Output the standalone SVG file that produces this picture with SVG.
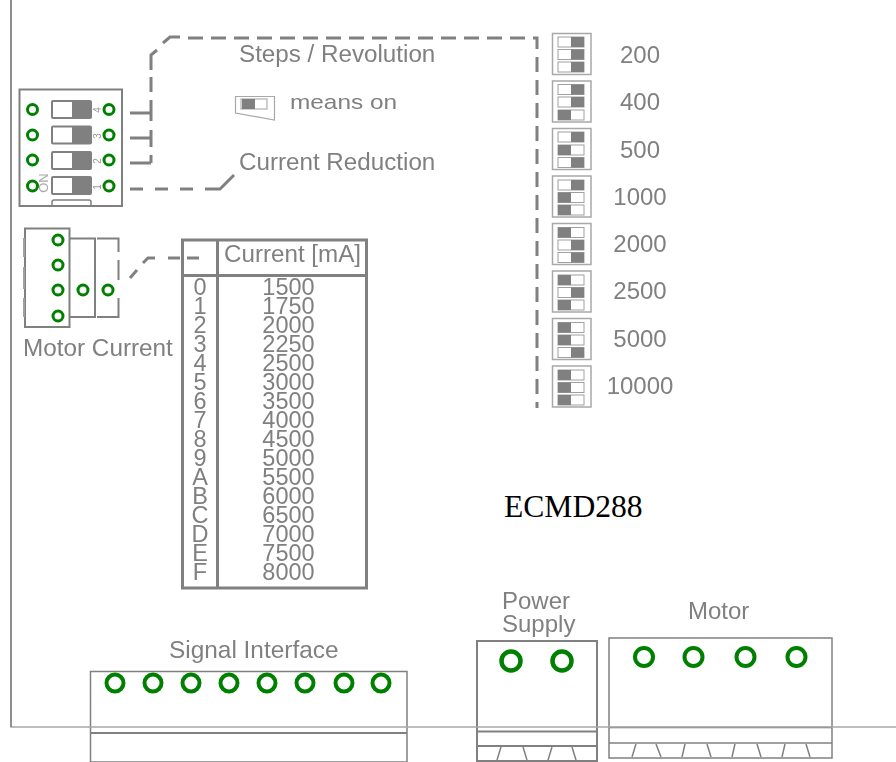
<svg xmlns="http://www.w3.org/2000/svg" xmlns:xlink="http://www.w3.org/1999/xlink" width="896" height="762" viewBox="0 0 896 762">
<style>
text{font-family:"Liberation Sans",Arial,sans-serif;fill:#808080;font-size:24px}
.soft{filter:url(#soft)}
.m{text-anchor:middle}
.t{font-size:23.500px;text-anchor:middle}
.box{fill:#fff;stroke:#808080;stroke-width:1.500}
.b2{fill:none;stroke:#808080;stroke-width:2}
.b3{fill:none;stroke:#808080;stroke-width:3}
.ln{fill:none;stroke:#808080;stroke-width:3}
.dash{fill:none;stroke:#808080;stroke-width:3;stroke-dasharray:15 8}
.g{fill:none;stroke:#008000;stroke-width:3}
.g2{fill:none;stroke:#008000;stroke-width:4}
.sw{fill:#fff;stroke:#a0a0a0;stroke-width:1}
.dk{fill:#808080}
.fr{fill:#fff;stroke:#a8a8a8;stroke-width:1.500}
.tiny{font-size:10px;fill:#999}
</style>
<defs>
<filter id="soft" x="-5%" y="-5%" width="110%" height="110%"><feGaussianBlur stdDeviation="0.45"/></filter>
<g id="off"><rect class="sw" x="0" y="0" width="26" height="10"/><rect class="dk" x="13" y="0" width="13" height="10"/></g>
<g id="on"><rect class="sw" x="0" y="0" width="26" height="10"/><rect class="dk" x="0" y="0" width="13" height="10"/></g>
<rect id="frame" class="fr" x="552.500" y="0" width="38.500" height="41"/>
<g id="msw"><rect x="52" y="0" width="39" height="17" rx="1" fill="#fff" stroke="#808080" stroke-width="2"/><rect class="dk" x="72" y="0" width="19" height="17"/></g>
</defs>

<g id="connectors" class="soft">
<path class="ln" d="M151 163V155M151 147V130M151 121V100M151 92V77M151 70V55L157 50M163 43L170 37H180"/>
<path class="dash" d="M188 38H537V408"/>
<path class="ln" d="M130 113H151M130 138H151M130 163H151"/>
<path class="ln" d="M130 189H143M155 189H168M180 189H193M205 189H220L234 175"/>
<path class="ln" d="M130 278L137 270M143 263L148 258H155M168 258H180M187 258H199"/>
</g>

<g id="dip-switch" class="soft">
<rect class="b2" x="19.500" y="89.500" width="102.500" height="116.500" fill="#fff"/>
<use xlink:href="#msw" y="101"/><use xlink:href="#msw" y="126.500"/><use xlink:href="#msw" y="152"/><use xlink:href="#msw" y="177"/>
<path d="M52 206V202Q52 200 54 200H89Q91 200 91 202V206" fill="none" stroke="#808080" stroke-width="1.500"/>
<circle class="g" cx="32.500" cy="109.500" r="5"/><circle class="g" cx="32.500" cy="135" r="5"/><circle class="g" cx="32.500" cy="160" r="5"/><circle class="g" cx="32.500" cy="186" r="5"/>
<circle class="g" cx="109" cy="109.500" r="5"/><circle class="g" cx="109" cy="135" r="5"/><circle class="g" cx="109" cy="160" r="5"/><circle class="g" cx="109" cy="186" r="5"/>
<text class="tiny" transform="translate(101 110) rotate(-90)" text-anchor="middle">4</text>
<text class="tiny" transform="translate(101 136) rotate(-90)" text-anchor="middle">3</text>
<text class="tiny" transform="translate(101 161) rotate(-90)" text-anchor="middle">2</text>
<text class="tiny" transform="translate(101 187) rotate(-90)" text-anchor="middle">1</text>
<text transform="translate(48 183) rotate(-90)" text-anchor="middle" style="font-size:13px;fill:#a8a8a8">ON</text>
</g>

<g id="labels" class="soft">
<text x="239" y="62" style="font-size:24.200px">Steps / Revolution</text>
<text x="239" y="170" style="font-size:24.200px">Current Reduction</text>
<text transform="translate(290 108.500) scale(1 .8)" style="font-size:24.400px">means on</text>
</g>
<g id="title"><text x="504" y="517" style="font-family:'Liberation Serif',serif;font-size:31.600px;fill:#000">ECMD288</text></g>

<g id="on-legend" class="soft">
<path d="M235.500 96.500H274.500V120L235.500 113Z" fill="#fff" stroke="#a8a8a8" stroke-width="1.200"/>
<rect class="sw" x="241" y="99" width="26" height="10"/><rect class="dk" x="242" y="99" width="13" height="10"/>
</g>

<g id="steps-200" class="soft"><use xlink:href="#frame" y="33.500"/><use xlink:href="#off" x="558" y="37"/><use xlink:href="#off" x="558" y="49.500"/><use xlink:href="#off" x="558" y="62"/><text class="m" x="640" y="63">200</text></g>
<g id="steps-400" class="soft"><use xlink:href="#frame" y="81"/><use xlink:href="#off" x="558" y="84.500"/><use xlink:href="#off" x="558" y="97"/><use xlink:href="#on" x="558" y="110"/><text class="m" x="640" y="110">400</text></g>
<g id="steps-500" class="soft"><use xlink:href="#frame" y="128.500"/><use xlink:href="#off" x="558" y="132"/><use xlink:href="#on" x="558" y="145"/><use xlink:href="#off" x="558" y="157.500"/><text class="m" x="640" y="158">500</text></g>
<g id="steps-1000" class="soft"><use xlink:href="#frame" y="176"/><use xlink:href="#off" x="558" y="180"/><use xlink:href="#on" x="558" y="192.500"/><use xlink:href="#on" x="558" y="205"/><text class="m" x="640" y="205">1000</text></g>
<g id="steps-2000" class="soft"><use xlink:href="#frame" y="223.500"/><use xlink:href="#on" x="558" y="227.500"/><use xlink:href="#off" x="558" y="240"/><use xlink:href="#off" x="558" y="252.500"/><text class="m" x="640" y="252">2000</text></g>
<g id="steps-2500" class="soft"><use xlink:href="#frame" y="271"/><use xlink:href="#on" x="558" y="275"/><use xlink:href="#off" x="558" y="287.500"/><use xlink:href="#on" x="558" y="300"/><text class="m" x="640" y="299">2500</text></g>
<g id="steps-5000" class="soft"><use xlink:href="#frame" y="318.500"/><use xlink:href="#on" x="558" y="322.500"/><use xlink:href="#on" x="558" y="335"/><use xlink:href="#off" x="558" y="347.500"/><text class="m" x="640" y="347">5000</text></g>
<g id="steps-10000" class="soft"><use xlink:href="#frame" y="366"/><use xlink:href="#on" x="558" y="370"/><use xlink:href="#on" x="558" y="382.500"/><use xlink:href="#on" x="558" y="395"/><text class="m" x="640" y="394">10000</text></g>

<g id="motor-current" class="soft">
<path class="b2" d="M25 228.500H69.500V327H25ZM69.500 238.500H95V317H69.500M95 238.500V317"/>
<path class="b2" d="M97 238.500H118.500V252M118.500 260V280M118.500 298V317H97"/>
<path d="M24 238V257M24 267V289M24 298V317" fill="none" stroke="#a0a0a0" stroke-width="2"/>
<circle class="g" cx="58" cy="240" r="5"/><circle class="g" cx="58" cy="265" r="5"/><circle class="g" cx="58" cy="290" r="5"/><circle class="g" cx="58" cy="316" r="5"/>
<circle class="g" cx="83" cy="290" r="5"/><circle class="g" cx="108" cy="290" r="5"/>
<text x="23" y="356" style="font-size:24.300px">Motor Current</text>
</g>

<g id="current-table" class="soft">
<path class="b3" d="M182.500 240H366.500V588H182.500ZM217.500 240V588M182.500 275.500H366.500"/>
<text x="224" y="262" style="font-size:24.200px">Current [mA]</text>
<text class="t" x="200" y="294.500">0</text><text class="t" x="288.500" y="294.500">1500</text>
<text class="t" x="200" y="313.500">1</text><text class="t" x="288.500" y="313.500">1750</text>
<text class="t" x="200" y="332.600">2</text><text class="t" x="288.500" y="332.600">2000</text>
<text class="t" x="200" y="351.700">3</text><text class="t" x="288.500" y="351.700">2250</text>
<text class="t" x="200" y="370.800">4</text><text class="t" x="288.500" y="370.800">2500</text>
<text class="t" x="200" y="389.800">5</text><text class="t" x="288.500" y="389.800">3000</text>
<text class="t" x="200" y="408.900">6</text><text class="t" x="288.500" y="408.900">3500</text>
<text class="t" x="200" y="428">7</text><text class="t" x="288.500" y="428">4000</text>
<text class="t" x="200" y="447">8</text><text class="t" x="288.500" y="447">4500</text>
<text class="t" x="200" y="466">9</text><text class="t" x="288.500" y="466">5000</text>
<text class="t" x="200" y="485">A</text><text class="t" x="288.500" y="485">5500</text>
<text class="t" x="200" y="504">B</text><text class="t" x="288.500" y="504">6000</text>
<text class="t" x="200" y="523">C</text><text class="t" x="288.500" y="523">6500</text>
<text class="t" x="200" y="542">D</text><text class="t" x="288.500" y="542">7000</text>
<text class="t" x="200" y="561">E</text><text class="t" x="288.500" y="561">7500</text>
<text class="t" x="200" y="580">F</text><text class="t" x="288.500" y="580">8000</text>
</g>

<g id="signal-interface" class="soft">
<path class="box" d="M90.500 671.500H407V762H90.500Z"/>
<path d="M90 733H407" stroke="#808080" stroke-width="2" fill="none"/>
<circle class="g2" cx="115" cy="683" r="8.500"/><circle class="g2" cx="153" cy="683" r="8.500"/><circle class="g2" cx="191" cy="683" r="8.500"/><circle class="g2" cx="229" cy="683" r="8.500"/><circle class="g2" cx="267" cy="683" r="8.500"/><circle class="g2" cx="305" cy="683" r="8.500"/><circle class="g2" cx="344" cy="683" r="8.500"/><circle class="g2" cx="381" cy="683" r="8.500"/>
<text x="169" y="658" style="font-size:24.400px">Signal Interface</text>
</g>

<g id="power-supply" class="soft">
<rect class="box" x="477" y="641" width="120" height="120" style="stroke-width:2"/>
<path d="M477 731.500H597M477 746H597" stroke="#808080" stroke-width="2" fill="none"/>
<path d="M501 747L497 760M523 747L527 760M552 747L548 760M572 747L576 760" stroke="#808080" stroke-width="1.500" fill="none"/>
<circle cx="511" cy="661" r="9.500" fill="none" stroke="#008000" stroke-width="4.500"/><circle cx="562" cy="661" r="9.500" fill="none" stroke="#008000" stroke-width="4.500"/>
<text x="502" y="609">Power</text>
<text x="502" y="632">Supply</text>
</g>

<g id="motor" class="soft">
<rect class="box" x="609" y="638" width="223" height="120"/>
<path d="M609 727.500H832" stroke="#707070" stroke-width="1.500" fill="none"/>
<path d="M609 743H832" stroke="#808080" stroke-width="1.500" fill="none"/>
<path d="M636 744L632 757M656 744L661 757M685 744L682 757M707 744L711 757M735 744L732 757M757 744L761 757M785 744L782 757M806 744L810 757" stroke="#808080" stroke-width="1.500" fill="none"/>
<circle class="g2" cx="644" cy="657" r="9"/><circle class="g2" cx="693.500" cy="657" r="9"/><circle class="g2" cx="745.500" cy="657" r="9"/><circle class="g2" cx="796.500" cy="657" r="9"/>
<text x="688" y="619">Motor</text>
</g>

<g id="board-outline" class="soft"><path d="M11 0V727H896" fill="none" stroke="#a8a8a8" stroke-width="1.500"/><path d="M11 0V727" fill="none" stroke="#808080" stroke-width="1.500"/></g>
</svg>
